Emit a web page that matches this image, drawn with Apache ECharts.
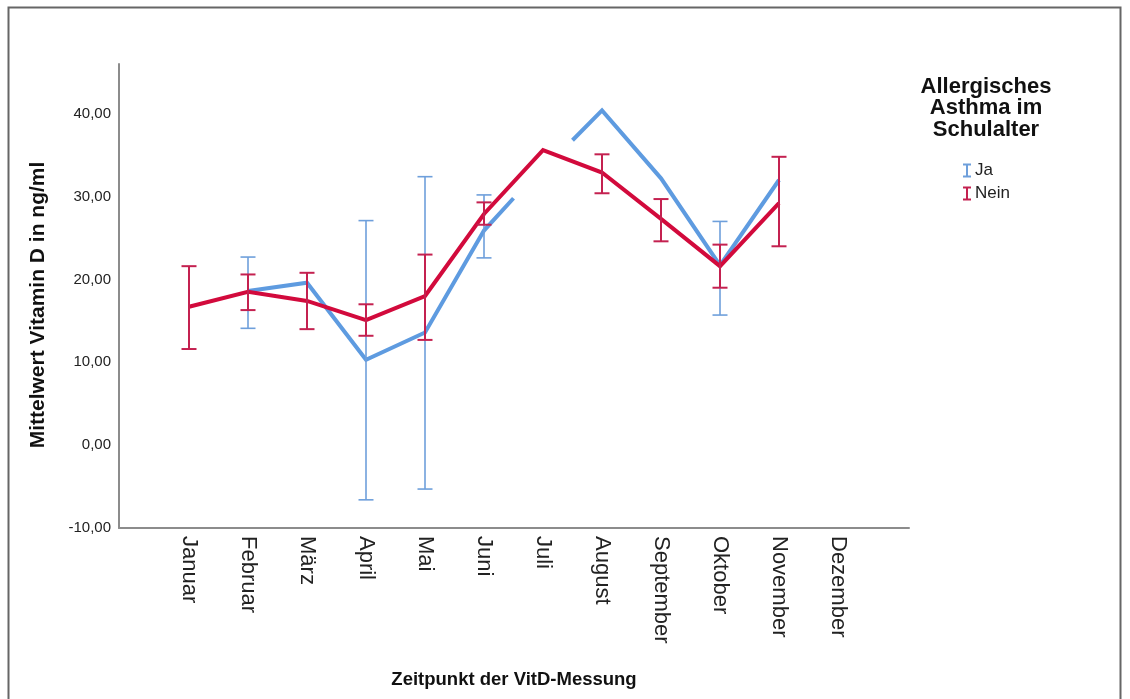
<!DOCTYPE html>
<html>
<head>
<meta charset="utf-8">
<script src="https://cdn.jsdelivr.net/npm/echarts@6/dist/echarts.min.js"></script>
<style>
html,body{margin:0;padding:0;background:#fff;}
#chart{width:1130px;height:699px;}
</style>
</head>
<body>
<div id="chart"></div>
<script>
// ---- data ----
const months = ['Januar','Februar','März','April','Mai','Juni','Juli','August','September','Oktober','November','Dezember'];
const yTicks = [-10, 0, 10, 20, 30, 40];

// Ja (blue): line vertices (month index, value); the line is interrupted around Juli
const jaLineMonth = [1, 2, 3, 4, 5, 5.5, null, 6.5, 7, 8, 9, 10];
const jaLineValue = [18.6, 19.6, 10.3, 13.6, 25.9, 29.8, null, 36.8, 40.4, 32.2, 21.7, 32.0];
const jaLow  = [null, 14.1, null, -6.6, -5.3, 22.6, null, null, null, 15.7, null, null];
const jaHigh = [null, 22.7, null, 27.1, 32.4, 30.2, null, null, null, 27.0, null, null];

// Nein (red)
const neinMean = [16.7, 18.5, 17.4, 15.1, 18.0, 27.9, 35.6, 32.9, 27.3, 21.6, 29.2, null];
const neinLow  = [11.6, 16.3, 14.0, 13.2, 12.7, 26.6, null, 30.4, 24.6, 19.0, 24.0, null];
const neinHigh = [21.6, 20.6, 20.8, 17.0, 23.0, 29.3, null, 35.1, 29.7, 24.2, 34.8, null];

const FONT = 'Liberation Sans, Arial, sans-serif';
const BLUE = '#5e9be0', BLUE_BAR = '#6e9fdb';
const RED = '#d20a3c', RED_BAR = '#c42150';
const AXIS = '#8c8c8c';

function errData(lo, hi) {
  const out = [];
  for (let i = 0; i < lo.length; i++) {
    if (lo[i] != null && hi[i] != null) out.push([i, lo[i], hi[i]]);
  }
  return out;
}
function errRender(color, width) {
  return function (params, api) {
    const x = api.value(0);
    const a = api.coord([x, api.value(1)]);
    const b = api.coord([x, api.value(2)]);
    const hw = 7.5;
    const st = {stroke: color, lineWidth: width};
    return {type: 'group', children: [
      {type: 'line', shape: {x1: a[0], y1: a[1], x2: b[0], y2: b[1]}, style: st},
      {type: 'line', shape: {x1: a[0]-hw, y1: a[1], x2: a[0]+hw, y2: a[1]}, style: st},
      {type: 'line', shape: {x1: b[0]-hw, y1: b[1], x2: b[0]+hw, y2: b[1]}, style: st}
    ]};
  };
}

const jaLine = jaLineMonth.map((m, i) => m == null ? ['-', '-'] : [m, jaLineValue[i]]);
const neinLine = neinMean.map((v, i) => v == null ? ['-', '-'] : [i, v]);

const chart = echarts.init(document.getElementById('chart'), null, {renderer: 'canvas'});
const option = {
  animation: false,
  backgroundColor: '#fff',
  textStyle: {fontFamily: FONT},
  grid: [
    {left: 119, width: 790, top: 64, height: 464},
    {left: 159.5, width: 708, top: 64, height: 464}
  ],
  xAxis: [
    {gridIndex: 0, type: 'value', min: 0, max: 1,
     axisLine: {show: true, onZero: false, lineStyle: {color: AXIS, width: 2}},
     axisTick: {show: false}, axisLabel: {show: false}, splitLine: {show: false}},
    {gridIndex: 1, type: 'category', data: months, boundaryGap: true,
     axisLine: {show: false, onZero: false}, axisTick: {show: false}, splitLine: {show: false},
     axisLabel: {rotate: -90, interval: 0, margin: 8, fontSize: 22, color: '#222', fontFamily: FONT}},
    {gridIndex: 1, type: 'value', min: -0.5, max: 11.5, show: false}
  ],
  yAxis: [
    {gridIndex: 0, type: 'value', min: -10, max: 46, interval: 10,
     axisLine: {show: true, onZero: false, lineStyle: {color: AXIS, width: 2}},
     axisTick: {show: false}, splitLine: {show: false},
     axisLabel: {margin: 8, fontSize: 15, color: '#222', fontFamily: FONT,
       formatter: v => yTicks.indexOf(v) >= 0 ? v.toFixed(2).replace('.', ',') : ''}},
    {gridIndex: 1, type: 'value', min: -10, max: 46, show: false}
  ],
  legend: {
    orient: 'vertical', left: 958, top: 157, itemGap: 6,
    itemWidth: 8, itemHeight: 14, selectedMode: false,
    textStyle: {fontSize: 17, color: '#222', fontFamily: FONT, padding: [0, 0, 0, -1]},
    data: [
      {name: 'Ja', icon: 'path://M0,0h8v2h-3v10h3v2h-8v-2h3v-10h-3z', itemStyle: {color: BLUE_BAR}},
      {name: 'Nein', icon: 'path://M0,0h8v2h-3v10h3v2h-8v-2h3v-10h-3z', itemStyle: {color: RED_BAR}}
    ]
  },
  series: [
    {name: 'Ja', type: 'line', xAxisIndex: 2, yAxisIndex: 1, data: jaLine,
     symbol: 'none', connectNulls: false, z: 2,
     lineStyle: {color: BLUE, width: 4, join: 'miter'}, itemStyle: {color: BLUE}},
    {name: 'Ja', type: 'custom', xAxisIndex: 2, yAxisIndex: 1, data: errData(jaLow, jaHigh),
     renderItem: errRender(BLUE_BAR, 1.6), z: 3, itemStyle: {color: BLUE_BAR}},
    {name: 'Nein', type: 'line', xAxisIndex: 2, yAxisIndex: 1, data: neinLine,
     symbol: 'none', connectNulls: false, z: 4,
     lineStyle: {color: RED, width: 4, join: 'miter'}, itemStyle: {color: RED}},
    {name: 'Nein', type: 'custom', xAxisIndex: 2, yAxisIndex: 1, data: errData(neinLow, neinHigh),
     renderItem: errRender(RED_BAR, 2), z: 5, itemStyle: {color: RED_BAR}}
  ],
  graphic: [
    {type: 'rect', shape: {x: 8.5, y: 7.5, width: 1112, height: 720},
     style: {fill: null, stroke: '#666', lineWidth: 2}, silent: true, z: 100},
    {type: 'text', x: 38, y: 305, rotation: Math.PI / 2,
     style: {text: 'Mittelwert Vitamin D in ng/ml', font: 'bold 21px ' + FONT, fill: '#111',
             textAlign: 'center', textVerticalAlign: 'middle'}},
    {type: 'text', x: 514, y: 680,
     style: {text: 'Zeitpunkt der VitD-Messung', font: 'bold 18.5px ' + FONT, fill: '#111',
             textAlign: 'center', textVerticalAlign: 'middle'}},
    {type: 'text', x: 986, y: 76,
     style: {text: 'Allergisches\nAsthma im\nSchulalter', font: 'bold 22px ' + FONT, fill: '#111',
             textAlign: 'center', textVerticalAlign: 'top', lineHeight: 21.5}}
  ]
};
chart.setOption(option);
</script>
</body>
</html>
